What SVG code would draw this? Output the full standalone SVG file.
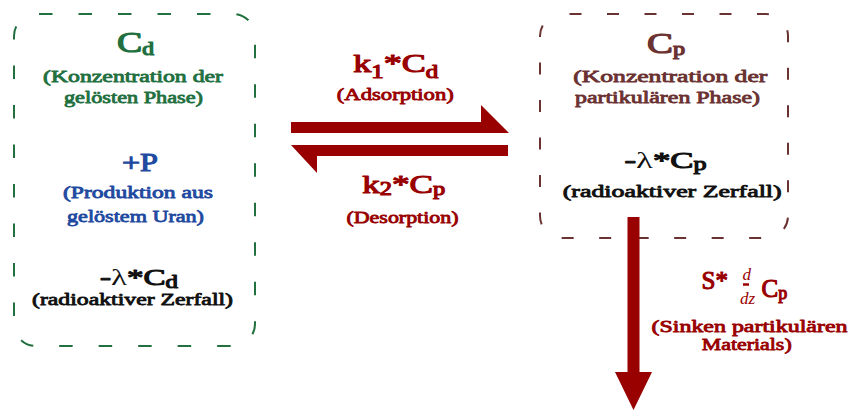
<svg xmlns="http://www.w3.org/2000/svg" width="849" height="412" viewBox="0 0 849 412" font-family="'Liberation Serif', 'DejaVu Serif', serif">
<style>
text{font-family:"Liberation Serif","DejaVu Serif",serif;font-weight:normal;text-anchor:middle;stroke-linejoin:round}
.big{font-size:29px;stroke-width:1.2px}
.mid{font-size:24px;stroke-width:1.1px}
.sub{font-size:18px}
.sm{font-size:17.5px;stroke-width:0.85px}
.lam{stroke-width:0}
.it{font-style:italic;font-size:17px;stroke-width:0}
.green{fill:#22703f;stroke:#22703f}
.blue{fill:#1f4aa0;stroke:#1f4aa0}
.brown{fill:#6b3232;stroke:#6b3232}
.red{fill:#990000;stroke:#990000}
.black{fill:#111111;stroke:#111111}
.box{fill:none;stroke-width:2}
.arrow{fill:#990000;stroke:none}
</style>
<g id="node-cd">
<rect class="box" x="14" y="14" width="241" height="332" rx="22" ry="22" stroke="#22703f" stroke-dasharray="13.5 26" stroke-dashoffset="36.5"/>
<text class="big green" x="135.5" y="52" textLength="37" lengthAdjust="spacingAndGlyphs">C<tspan class="sub" dy="3">d</tspan></text>
<text class="sm green" x="133" y="82" textLength="180" lengthAdjust="spacingAndGlyphs">(Konzentration der</text>
<text class="sm green" x="133.5" y="103" textLength="139" lengthAdjust="spacingAndGlyphs">gelösten Phase)</text>
<text class="mid blue" x="140" y="171" textLength="36" lengthAdjust="spacingAndGlyphs" style="font-size:25px">+P</text>
<text class="sm blue" x="138" y="198" textLength="150" lengthAdjust="spacingAndGlyphs">(Produktion aus</text>
<text class="sm blue" x="135.5" y="221.5" textLength="137" lengthAdjust="spacingAndGlyphs">gelöstem Uran)</text>
<text class="mid black" x="139" y="285" textLength="78" lengthAdjust="spacingAndGlyphs">-<tspan class="lam">λ</tspan>*C<tspan class="sub" dy="3">d</tspan></text>
<text class="sm black" x="132.5" y="305" textLength="201" lengthAdjust="spacingAndGlyphs">(radioaktiver Zerfall)</text>
</g>
<g id="node-cp">
<rect class="box" x="540" y="14" width="248" height="224" rx="22" ry="22" stroke="#6b3232" stroke-dasharray="12 25.5" stroke-dashoffset="30"/>
<text class="big brown" x="666" y="53.3" textLength="38" lengthAdjust="spacingAndGlyphs">C<tspan class="sub" dy="2">p</tspan></text>
<text class="sm brown" x="670.3" y="81.7" textLength="194" lengthAdjust="spacingAndGlyphs">(Konzentration der</text>
<text class="sm brown" x="667.5" y="103.3" textLength="185" lengthAdjust="spacingAndGlyphs">partikulären Phase)</text>
<text class="mid black" x="665.5" y="168.3" textLength="82" lengthAdjust="spacingAndGlyphs">-<tspan class="lam">λ</tspan>*C<tspan class="sub" dy="2">p</tspan></text>
<text class="sm black" x="672.2" y="196.7" textLength="219" lengthAdjust="spacingAndGlyphs">(radioaktiver Zerfall)</text>
</g>
<g id="connectors">
<polygon class="arrow" points="291,122 481,122 481,105 509,133 291,133"/>
<polygon class="arrow" points="508,145 291,145 317,173 317,156 508,156"/>
<polygon class="arrow" points="627.5,217 639.5,217 639.5,372 652,372 633.5,410 615,372 627.5,372"/>
</g>
<g id="label-adsorption">
<text class="mid red" x="395.8" y="71.7" textLength="85" lengthAdjust="spacingAndGlyphs" style="font-size:26px">k<tspan class="sub" dy="6.5">1</tspan><tspan dy="-6.5">*C</tspan><tspan class="sub" dy="6.5">d</tspan></text>
<text class="sm red" x="395.3" y="100" textLength="117" lengthAdjust="spacingAndGlyphs">(Adsorption)</text>
</g>
<g id="label-desorption">
<text class="mid red" x="403.7" y="193.3" textLength="83" lengthAdjust="spacingAndGlyphs" style="font-size:26px">k<tspan class="sub" dy="2">2</tspan><tspan dy="-2">*C</tspan><tspan class="sub" dy="2">p</tspan></text>
<text class="sm red" x="402.5" y="223.3" textLength="112" lengthAdjust="spacingAndGlyphs">(Desorption)</text>
</g>
<g id="label-sinken">
<text class="mid red" x="701.5" y="289.3" style="text-anchor:start;font-size:25px">S*</text>
<text class="it red" x="746.7" y="280">d</text>
<line x1="743" y1="284.5" x2="749" y2="284.5" stroke="#990000" stroke-width="2.5"/>
<text class="it red" x="747.5" y="304">dz</text>
<text class="mid red" x="761.5" y="296.7" style="text-anchor:start;font-size:25px">C<tspan class="sub" dy="2">p</tspan></text>
<text class="sm red" x="749.5" y="331.7" textLength="196" lengthAdjust="spacingAndGlyphs">(Sinken partikulären</text>
<text class="sm red" x="746.7" y="350" textLength="90" lengthAdjust="spacingAndGlyphs">Materials)</text>
</g>
</svg>
